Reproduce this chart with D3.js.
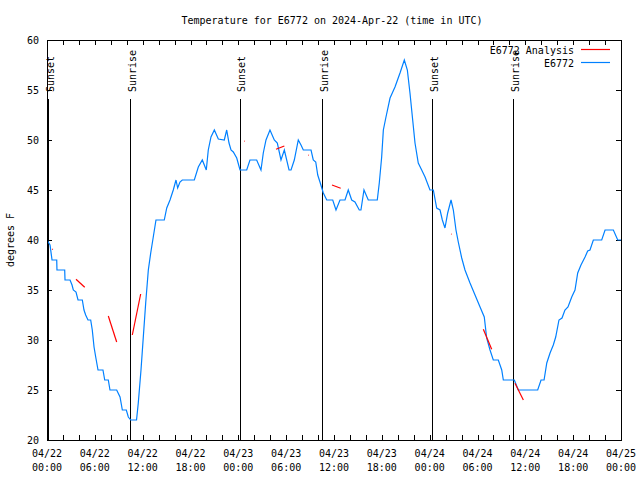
<!DOCTYPE html>
<html>
<head>
<meta charset="utf-8">
<style>
    body { margin: 0; background: #fff; }
    svg { display: block; font-family: 'DejaVu Sans Mono', monospace; font-size: 10px; }
    .axis .domain { display: none; }
    .axis line { stroke: #000; shape-rendering: crispEdges; }
    .axis text { fill: #000; font-size: 10px; font-family: 'DejaVu Sans Mono', monospace; }
</style>
</head>
<body>
<svg width="640" height="480"></svg>

<script src="https://d3js.org/d3.v7.min.js"></script>
<script>
    // hours after 2024-04-22 00:00 UTC, and degrees F
    let obsHours = [0.0, 0.38, 0.63, 1.22, 1.25, 2.22, 2.26, 2.89, 3.14, 3.30,
        3.64, 3.89, 4.43, 4.64, 4.85, 5.14, 5.48, 5.68, 5.90, 6.11,
        6.40, 7.02, 7.24, 7.69, 7.90, 8.74, 9.16, 9.45, 9.95, 10.20,
        10.50, 11.23, 11.45, 11.79, 12.08, 12.38, 12.71, 13.01, 13.33, 13.67,
        14.71, 15.02, 15.43, 15.84, 16.18, 16.39, 16.68, 16.97, 18.48, 18.98,
        19.48, 19.98, 20.23, 20.57, 20.99, 21.49, 22.24, 22.54, 22.83, 23.08,
        23.37, 23.80, 24.21, 25.05, 25.46, 26.30, 26.84, 27.13, 27.47, 27.97,
        28.51, 28.89, 29.35, 29.77, 30.36, 30.61, 31.02, 31.52, 31.86, 32.15,
        33.12, 33.40, 33.71, 33.96, 34.24, 34.66, 35.09, 35.84, 36.25, 36.75,
        37.38, 37.79, 38.22, 38.63, 39.17, 39.38, 39.76, 40.30, 41.43, 41.68,
        41.98, 42.19, 42.52, 43.03, 43.65, 44.28, 44.82, 45.20, 45.53, 45.87,
        46.16, 46.57, 47.00, 47.42, 48.04, 48.46, 48.88, 49.30, 49.59, 49.92,
        50.26, 50.68, 50.97, 51.30, 51.59, 52.02, 52.43, 53.06, 53.69, 54.32,
        54.85, 55.15, 55.57, 55.98, 56.61, 57.04, 57.24, 58.62, 59.12, 61.55,
        61.97, 62.35, 62.69, 63.10, 63.51, 63.81, 64.22, 64.60, 64.97, 65.35,
        65.82, 66.23, 66.57, 66.98, 67.49, 67.82, 68.11, 68.53, 69.58, 70.00,
        71.04, 71.59, 72.0]

    let obsTemps = [40.0, 39.5, 38, 38, 37, 37, 36, 36, 35.5, 35,
        34.8, 34, 34, 33, 32.5, 32, 32, 31, 29.3, 28.3,
        27, 27, 26, 26, 25, 25, 24.3, 23, 23, 22.3,
        22, 22, 23.7, 27, 30.3, 33.7, 37, 38.7, 40.3, 42,
        42, 43.2, 44, 45, 46, 45.2, 45.8, 46, 46, 47.3,
        48, 47, 49, 50.3, 51, 50.1, 50, 51, 49.7, 49,
        48.8, 48.2, 47, 47, 48, 48, 47, 48.7, 50, 51,
        50, 49.7, 48, 49, 47, 47, 48, 50, 49.5, 49,
        49, 48, 47.8, 46.5, 45.8, 44.7, 44, 44, 43, 44,
        44, 45, 44, 43.8, 43, 43, 45, 44, 44, 45.7,
        48.3, 51, 52.3, 54.2, 55.3, 56.7, 58, 57, 54.7, 52,
        49.7, 47.7, 47, 46.3, 45, 45, 43.2, 43, 42, 41.2,
        42.7, 44, 43, 41, 39.8, 38.2, 37, 35.7, 34.5, 33.3,
        32.3, 30.2, 29, 28, 28, 27, 26, 26, 25, 25,
        26, 26, 27.7, 28.7, 29.5, 30.3, 32, 32.2, 33, 33.3,
        34.3, 35, 36.7, 37.5, 38.3, 38.9, 39, 40, 40, 41,
        41, 40, 40]

    // analysis: short trend segments
    let anaStartH = [0.66, 3.64, 7.69, 10.70, 24.75, 28.73, 32.78, 35.75, 50.68, 54.73, 58.70]
    let anaStartT = [39.1, 36.07, 32.4, 30.5, 49.9, 49.07, 48.5, 45.5, 40.6, 31.07, 25.67]
    let anaEndH = [0.74, 4.73, 8.74, 11.75, 24.83, 29.77, 32.86, 36.84, 50.76, 55.78, 59.75]
    let anaEndT = [39.05, 35.27, 29.8, 34.6, 49.88, 49.4, 48.48, 45.17, 40.58, 29.07, 24.0]

    let sunLabels = ["Sunset", "Sunrise", "Sunset", "Sunrise", "Sunset", "Sunrise"]
    let sunHours = [0.15, 10.45, 24.2, 34.52, 48.3, 58.5]

    let yTicks = [20, 25, 30, 35, 40, 45, 50, 55, 60]

    let t0 = Date.UTC(2024, 3, 22, 0, 0)
    let toDate = h => new Date(t0 + h * 3600 * 1000)

    let plotL = 47, plotR = 621, plotT = 40, plotB = 440

    let svg = d3.select("svg")

    let x = d3.scaleUtc()
        .domain([toDate(0), toDate(72)])
        .range([plotL, plotR])

    let y = d3.scaleLinear()
        .domain([20, 60])
        .range([plotB, plotT])

    // title
    svg.append("text")
        .attr("x", 332)
        .attr("y", 24)
        .attr("text-anchor", "middle")
        .text("Temperature for E6772 on 2024-Apr-22 (time in UTC)")

    // y axis label
    svg.append("text")
        .attr("transform", "translate(14,240) rotate(-90)")
        .attr("text-anchor", "middle")
        .text("degrees F")

    let xTickVals = d3.utcHour.every(2).range(toDate(0), toDate(72.01))

    let xAxis = svg.append("g")
        .attr("class", "x axis")
        .attr("transform", `translate(0,${plotB})`)
        .call(d3.axisBottom(x)
            .tickValues(xTickVals)
            .tickSize(-5)
            .tickFormat(""))

    xAxis.selectAll(".tick text").remove()

    let labelTicks = xTickVals.filter(d => d.getUTCHours() % 6 == 0)
    let xl = svg.append("g")
    labelTicks.forEach(d => {
        let t = xl.append("text")
            .attr("x", x(d))
            .attr("y", 457)
            .attr("text-anchor", "middle")
        t.append("tspan").attr("x", x(d)).text(d3.utcFormat("%m/%d")(d))
        t.append("tspan").attr("x", x(d)).attr("dy", 14).text(d3.utcFormat("%H:%M")(d))
    })

    svg.append("g")
        .attr("class", "x axis")
        .attr("transform", `translate(0,${plotT})`)
        .call(d3.axisTop(x).tickValues(xTickVals).tickSize(-5).tickFormat(""))

    svg.append("g")
        .attr("class", "y axis")
        .attr("transform", `translate(${plotL},0)`)
        .call(d3.axisLeft(y).tickValues(yTicks).tickSize(-5).tickPadding(8))
        .selectAll("text").attr("dy", "0.35em")

    svg.append("g")
        .attr("class", "y axis")
        .attr("transform", `translate(${plotR},0)`)
        .call(d3.axisRight(y).tickValues(yTicks).tickSize(-5).tickFormat(""))

    // sunrise / sunset markers
    sunHours.forEach((h, i) => {
        svg.append("line")
            .attr("x1", Math.round(x(toDate(h))) + 0.5)
            .attr("x2", Math.round(x(toDate(h))) + 0.5)
            .attr("y1", 99)
            .attr("y2", plotB)
            .attr("stroke", "#000")
            .attr("shape-rendering", "crispEdges")
        svg.append("text")
            .attr("transform", `translate(${x(toDate(h)) + 2},92) rotate(-90)`)
            .attr("dy", "0.35em")
            .text(sunLabels[i])
    })

    svg.append("clipPath").attr("id", "plot")
        .append("rect")
        .attr("x", plotL).attr("y", plotT)
        .attr("width", plotR - plotL).attr("height", plotB - plotT)

    let line = d3.line()
        .x(d => x(toDate(d[0])))
        .y(d => y(d[1]))

    let obs = obsHours.map((h, i) => [h, obsTemps[i]])

    svg.append("path")
        .attr("clip-path", "url(#plot)")
        .attr("d", line(obs))
        .attr("fill", "none")
        .attr("stroke", "#0080ff")
        .attr("stroke-width", 1.2)

    let segs = anaStartH.map((h, i) => [[h, anaStartT[i]], [anaEndH[i], anaEndT[i]]])

    svg.append("g")
        .attr("clip-path", "url(#plot)")
        .selectAll("path")
        .data(segs)
        .join("path")
        .attr("d", line)
        .attr("fill", "none")
        .attr("stroke", "#ff0000")
        .attr("stroke-width", 1.2)

    // border
    svg.append("rect")
        .attr("x", plotL + 0.5).attr("y", plotT + 0.5)
        .attr("width", plotR - plotL).attr("height", plotB - plotT)
        .attr("fill", "none")
        .attr("stroke", "#000")
        .attr("shape-rendering", "crispEdges")

    // legend
    let legend = [["E6772 Analysis", "#ff0000", 50], ["E6772", "#0080ff", 63]]
    legend.forEach(l => {
        svg.append("text")
            .attr("x", 574)
            .attr("y", l[2])
            .attr("dy", "0.35em")
            .attr("text-anchor", "end")
            .text(l[0])
        svg.append("line")
            .attr("x1", 581).attr("x2", 610)
            .attr("y1", l[2] - 0.5).attr("y2", l[2] - 0.5)
            .attr("stroke", l[1])
            .attr("stroke-width", 1.2)
    })
</script>
</body>
</html>
